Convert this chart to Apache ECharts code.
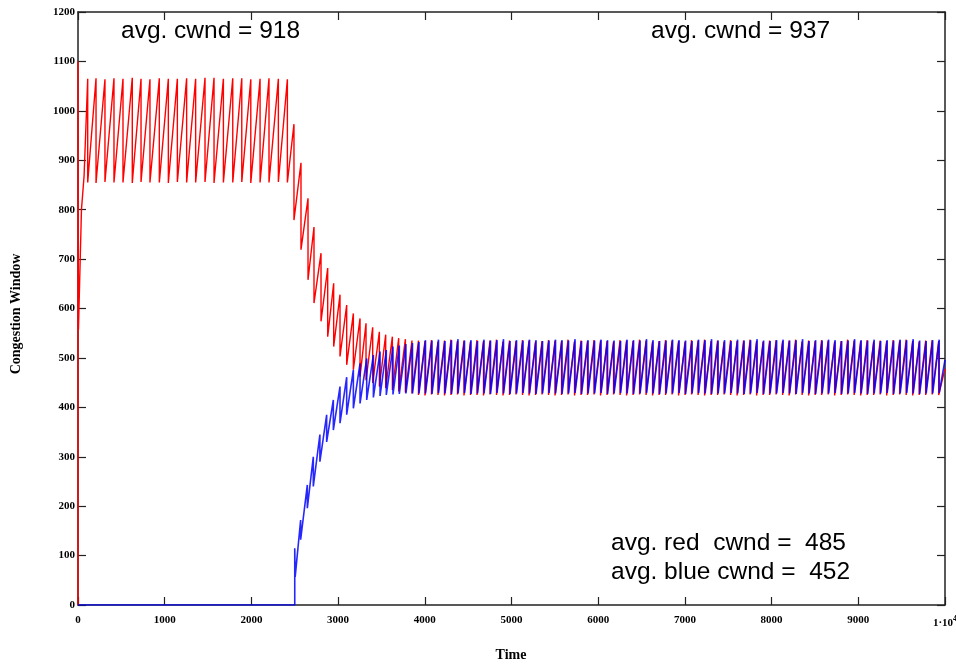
<!DOCTYPE html>
<html>
<head>
<meta charset="utf-8">
<script src="https://cdn.jsdelivr.net/npm/echarts@6/dist/echarts.min.js"></script>
<style>html,body{margin:0;padding:0;background:#fff}#c{width:956px;height:664px}</style>
</head>
<body>
<div id="c"></div>
<script>
// ---- axis ticks ----
const xTicks = [0, 1000, 2000, 3000, 4000, 5000, 6000, 7000, 8000, 9000, 10000];
const yTicks = [0, 100, 200, 300, 400, 500, 600, 700, 800, 900, 1000, 1100, 1200];

// ---- red flow: start, then saw-tooth peaks (time, peak value, value after drop) ----
const redStartTime  = [0, 0, 5, 40, 70];
const redStartValue = [0, 1100, 557, 800, 868];
const redPeakTime = [
  112, 208, 311, 415, 519, 626, 727, 830, 938, 1042, 1146, 1253, 1357, 1465, 1569, 1677, 1785, 1889, 1993, 2100, 2203, 2311, 2415, 2491,
  2572, 2653, 2722, 2803, 2880, 2949, 3022, 3099, 3176, 3253, 3322, 3399, 3476, 3549, 3626, 3699, 3776, 3852,
  3927, 4002, 4077, 4152, 4227, 4302, 4377, 4452, 4527, 4602, 4677, 4752, 4827, 4902, 4977, 5052, 5127, 5202, 5277, 5352,
  5427, 5502, 5577, 5652, 5727, 5802, 5877, 5952, 6027, 6102, 6177, 6252, 6327, 6402, 6477, 6552, 6627, 6702, 6777, 6852,
  6927, 7002, 7077, 7152, 7227, 7302, 7377, 7452, 7527, 7602, 7677, 7752, 7827, 7902, 7977, 8052, 8127, 8202, 8277, 8352,
  8427, 8502, 8577, 8652, 8727, 8802, 8877, 8952, 9027, 9102, 9177, 9252, 9327, 9402, 9477, 9552, 9627, 9702, 9777, 9852, 9927
];
const redPeakValue = [
  1065,1066,1064,1066,1065,1067,1065,1064,1066,1065,1065,1066,1065,1067,1067,1065,1066,1066,1064,1065,1066,1065,1064,973,
  895,823,765,712,682,651,628,607,590,580,570,562,553,547,543,540,538,535,
  535,534,536,533,535,537,534,535,533,536,
  534,535,537,533,535,534,536,535,533,534,
  536,535,534,537,533,535,534,536,535,534,
  533,536,535,534,537,535,533,534,536,535,
  534,533,536,535,537,534,535,533,536,534,
  535,537,534,533,535,536,534,535,537,533,
  535,534,536,535,533,534,537,535,534,536,
  533,535,534,536,535,537,534,533,535,536,
  534
];
const redTroughValue = [
  855,854,856,855,855,854,856,855,855,854,856,855,855,856,854,855,855,856,854,855,855,856,855,779,
  719,658,611,574,543,523,503,486,476,462,455,449,442,439,435,432,430,428,
  425,424,426,425,424,425,426,424,425,425,
  424,426,425,424,425,426,425,424,425,426,
  425,424,425,426,424,425,425,426,424,425,
  426,425,424,425,426,425,424,425,425,426,
  424,425,426,425,424,425,425,426,425,424,
  425,426,424,425,425,426,425,424,426,425,
  424,425,425,426,424,425,426,425,424,425,
  425,426,424,425,426,425,424,425,425,426,
  425
];
const redEnd = [10000, 478];

// ---- blue flow ----
const blueStartTime  = [0, 2500, 2500, 2505];
const blueStartValue = [0, 0, 115, 57];
const bluePeakTime = [
  2568, 2645, 2714, 2790, 2868, 2945, 3022, 3099, 3176, 3253, 3330, 3407, 3484, 3556, 3633, 3706, 3782, 3858, 3933,
  4008, 4083, 4158, 4233, 4308, 4383, 4458, 4533, 4608, 4683, 4758, 4833, 4908, 4983, 5058, 5133, 5208, 5283, 5358, 5433,
  5508, 5583, 5658, 5733, 5808, 5883, 5958, 6033, 6108, 6183, 6258, 6333, 6408, 6483, 6558, 6633, 6708, 6783, 6858, 6933,
  7008, 7083, 7158, 7233, 7308, 7383, 7458, 7533, 7608, 7683, 7758, 7833, 7908, 7983, 8058, 8133, 8208, 8283, 8358, 8433,
  8508, 8583, 8658, 8733, 8808, 8883, 8958, 9033, 9108, 9183, 9258, 9333, 9408, 9483, 9558, 9633, 9708, 9783, 9858, 9933
];
const bluePeakValue = [
  172,243,300,345,385,415,442,461,476,489,499,506,513,516,523,525,528,530,532,
  536,535,537,534,536,538,535,536,534,537,
  535,536,538,534,536,535,537,536,534,535,
  537,536,535,538,534,536,535,537,536,535,
  534,537,536,535,538,536,534,535,537,536,
  535,534,537,536,538,535,536,534,537,535,
  536,538,535,534,536,537,535,536,538,534,
  536,535,537,536,534,535,538,536,535,537,
  534,536,535,537,536,538,535,534,536,537
];
const blueTroughValue = [
  132,196,240,290,330,354,368,385,398,408,415,420,423,425,426,427,428,428,428,
  428,427,429,428,427,428,429,427,428,428,
  427,429,428,427,428,429,428,427,428,429,
  428,427,428,429,427,428,428,429,427,428,
  429,428,427,428,429,428,427,428,428,429,
  427,428,429,428,427,428,428,429,428,427,
  428,429,427,428,428,429,428,427,429,428,
  427,428,428,429,427,428,429,428,427,428,
  428,429,427,428,429,428,427,428,428,429
];
const blueEnd = [10000, 496];

// ---- annotations ----
const notes = [
  {text: 'avg. cwnd = 918', x: 121, y: 31},
  {text: 'avg. cwnd = 937', x: 651, y: 31},
  {text: 'avg. red  cwnd =  485', x: 611, y: 543},
  {text: 'avg. blue cwnd =  452', x: 611, y: 572}
];

function build(st, sv, pt, pv, tv, end) {
  const d = st.map((t, i) => [t, sv[i]]);
  pt.forEach((t, i) => { d.push([t, pv[i]]); d.push([t, tv[i]]); });
  d.push(end);
  return d;
}
const redData = build(redStartTime, redStartValue, redPeakTime, redPeakValue, redTroughValue, redEnd);
const blueData = build(blueStartTime, blueStartValue, bluePeakTime, bluePeakValue, blueTroughValue, blueEnd);

const labelFont = {fontFamily: 'Liberation Serif', fontWeight: 'bold', fontSize: 11, color: '#000'};
const axLine = {show: true, onZero: false, lineStyle: {color: '#222', width: 1.5}};
const axTick = {show: true, inside: true, length: 8, lineStyle: {color: '#222', width: 1.2}};

const chart = echarts.init(document.getElementById('c'), null, {renderer: 'canvas'});
chart.setOption({
  animation: false,
  backgroundColor: '#fff',
  grid: {left: 78, right: 11, top: 12, bottom: 59, containLabel: false, outerBoundsMode: 'none'},
  xAxis: [{
    type: 'value', min: xTicks[0], max: xTicks[xTicks.length - 1], interval: 1000,
    position: 'bottom', splitLine: {show: false}, axisLine: axLine, axisTick: axTick,
    axisLabel: Object.assign({}, labelFont, {
      margin: 10,
      formatter: v => v === 10000 ? '{b|1·10}{s|4}' : String(v),
      rich: {b: labelFont, s: {fontFamily: 'Liberation Serif', fontWeight: 'bold', fontSize: 8, color: '#000', verticalAlign: 'top', padding: [0, 0, 8, 0]}}
    })
  }, {
    type: 'value', min: xTicks[0], max: xTicks[xTicks.length - 1], interval: 1000,
    position: 'top', splitLine: {show: false}, axisLine: axLine, axisTick: axTick, axisLabel: {show: false}
  }],
  yAxis: [{
    type: 'value', min: yTicks[0], max: yTicks[yTicks.length - 1], interval: 100,
    position: 'left', splitLine: {show: false}, axisLine: axLine, axisTick: axTick,
    axisLabel: Object.assign({}, labelFont, {margin: 3, formatter: v => String(v)})
  }, {
    type: 'value', min: yTicks[0], max: yTicks[yTicks.length - 1], interval: 100,
    position: 'right', splitLine: {show: false}, axisLine: axLine, axisTick: axTick, axisLabel: {show: false}
  }],
  series: [{
    name: 'red', type: 'line', data: redData, showSymbol: false, symbol: 'none',
    lineStyle: {color: '#ff0000', width: 1.4}, z: 3
  }, {
    name: 'blue', type: 'line', data: blueData, showSymbol: false, symbol: 'none',
    lineStyle: {color: '#0000ff', width: 1.6, opacity: 0.85}, z: 4
  }],
  graphic: notes.map(n => ({
    type: 'text', x: n.x, y: n.y, z: 10,
    style: {text: n.text, fontFamily: 'Liberation Sans', fontSize: 24.5, fill: '#000', textVerticalAlign: 'middle', verticalAlign: 'middle'}
  })).concat([{
    type: 'text', x: 16, y: 314, rotation: Math.PI / 2, z: 10,
    style: {text: 'Congestion Window', fontFamily: 'Liberation Serif', fontWeight: 'bold', fontSize: 14, fill: '#000', align: 'center', textAlign: 'center', verticalAlign: 'middle', textVerticalAlign: 'middle'}
  }, {
    type: 'text', x: 511, y: 655, z: 10,
    style: {text: 'Time', fontFamily: 'Liberation Serif', fontWeight: 'bold', fontSize: 14, fill: '#000', align: 'center', textAlign: 'center', verticalAlign: 'middle', textVerticalAlign: 'middle'}
  }])
});
</script>
</body>
</html>
